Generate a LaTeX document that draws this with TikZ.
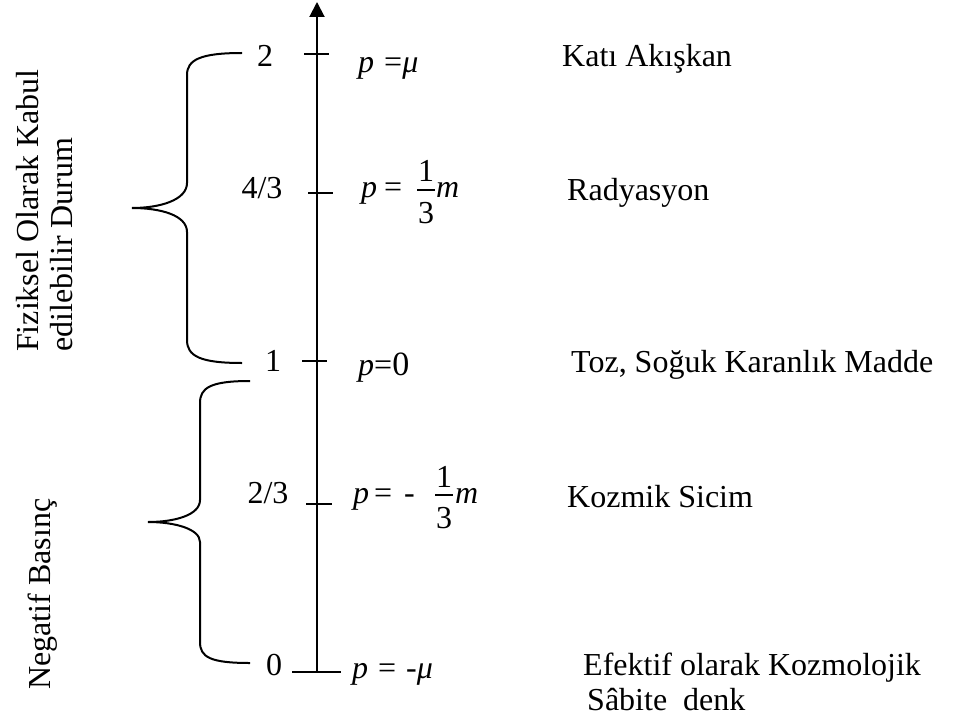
\documentclass[tikz,border=0pt]{standalone}
\usepackage{fontspec}
\setmainfont{Liberation Serif}
\usetikzlibrary{arrows.meta}

\begin{document}
\begin{tikzpicture}[
    x=1pt, y=-1pt,
    every node/.style={inner sep=0pt, font=\fontsize{32}{35}\selectfont},
    num/.style={anchor=base},
    eq/.style={anchor=base west},
    lab/.style={anchor=base west},
    side/.style={rotate=90, anchor=base west},
    axisline/.style={line width=2pt, -{Triangle[length=15pt,width=15pt]}},
    tick/.style={line width=2pt},
    brace/.style={line width=2pt},
    bar/.style={line width=1.5pt}
]
\useasboundingbox (0,0) rectangle (965,722);

% axis
\coordinate (bot) at (317,672);
\coordinate (top) at (317,2);
\draw[axisline] (bot) -- (top);

% ticks
\coordinate (k2) at (317,54);
\coordinate (k43) at (317,193);
\coordinate (k1) at (317,361);
\coordinate (k23) at (317,504);
\coordinate (k0) at (317,672);

\draw[tick] ([xshift=-13pt]k2) -- ([xshift=12pt]k2);
\draw[tick] ([xshift=-9pt]k43) -- ([xshift=16pt]k43);
\draw[tick] ([xshift=-15pt]k1) -- ([xshift=10pt]k1);
\draw[tick] ([xshift=-11pt]k23) -- ([xshift=15pt]k23);
\draw[tick] ([xshift=-25pt]k0) -- ([xshift=24pt]k0);

% values
\node[num] (n2) at (265,67) {2};
\node[num] (n43) at (262,198) {4/3};
\node[num] (n1) at (273,371) {1};
\node[num] (n23) at (268,503) {2/3};
\node[num] (n0) at (274,675) {0};

% equations
\node[eq] (e2) at (358,73) {\textit{p}\hspace{10pt}=\textit{μ}};

\node[eq] (e43) at (361,197) {\textit{p}\hspace{7pt}=};
\node[num] (f43a) at (426,182) {1};
\node[num] (f43b) at (426,223) {3};
\draw[bar] (417,190) -- (435,190);
\node[eq] (m43) at (436,197) {\textit{m}};

\node[eq] (e1) at (358,375) {\textit{p}=\fontsize{34}{36}\selectfont 0};

\node[eq] (e23) at (353,503) {\textit{p}\hspace{5pt}=\hspace{12pt}-};
\node[num] (f23a) at (444,487) {1};
\node[num] (f23b) at (444,528) {3};
\draw[bar] (435,495) -- (453,495);
\node[eq] (m23) at (455,503) {\textit{m}};

\node[eq] (e0) at (352,678) {\textit{p}\hspace{10pt}=\hspace{10pt}-\textit{μ}};

% names
\node[lab] (l2) at (562,67) {Katı Akışkan};
\node[lab] (l43) at (567,200) {Radyasyon};
\node[lab] (l1) at (571,372) {Toz, Soğuk Karanlık Madde};
\node[lab] (l23) at (567,507) {Kozmik Sicim};
\node[lab] (l0) at (583,675) {Efektif olarak Kozmolojik};
\node[lab] (l0b) at (587,710) {Sâbite\ \ denk};

% braces
\draw[brace] (242,53) .. controls (200,53) and (187,60) .. (187,75)
  -- (187,183) .. controls (187,200) and (160,208) .. (132,208)
  .. controls (160,208) and (187,215) .. (187,232)
  -- (187,340) .. controls (187,356) and (200,363) .. (242,363);
\draw[brace] (250,381) .. controls (210,381) and (200,388) .. (200,403)
  -- (200,500) .. controls (200,515) and (175,522) .. (148,522)
  .. controls (175,522) and (200,529) .. (200,542)
  -- (200,642) .. controls (200,657) and (210,663) .. (250,663);

% side texts
\node[side] (s1) at (38,352) {Fiziksel Olarak Kabul};
\node[side] (s2) at (72,352) {edilebilir Durum};
\node[side] (s3) at (50,690) {Negatif Basınç};
\end{tikzpicture}
\end{document}
